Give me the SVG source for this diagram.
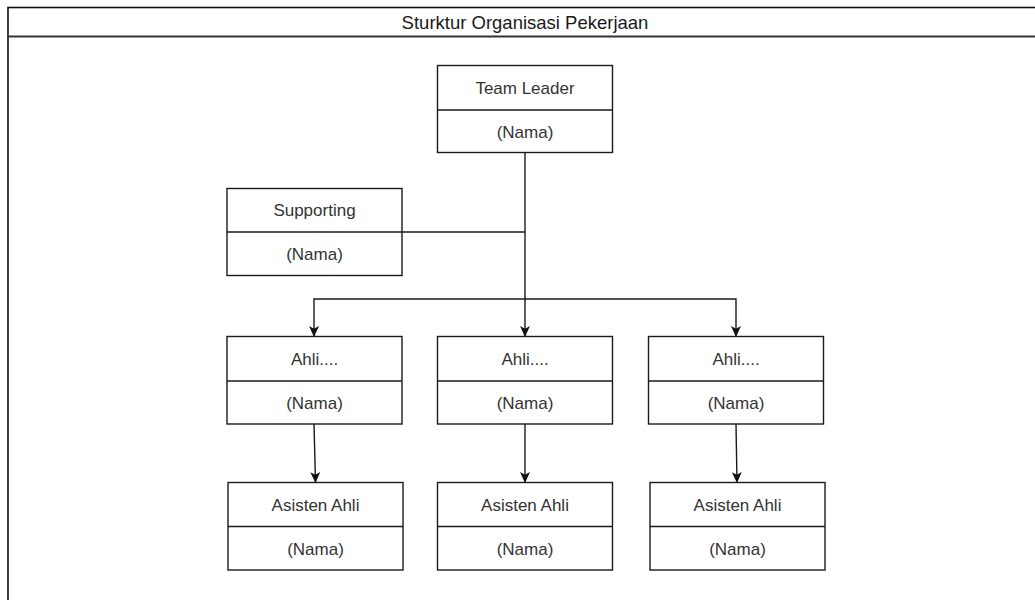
<svg xmlns="http://www.w3.org/2000/svg" width="1035" height="600" viewBox="0 0 1035 600">
  <style>
    .box { fill: #ffffff; stroke: #1a1a1a; stroke-width: 1.4; }
    .div { stroke: #1a1a1a; stroke-width: 1.4; fill: none; }
    .lbl { font-family: "Liberation Sans", Arial, Helvetica, sans-serif; font-size: 17px; fill: #333333; text-anchor: middle; }
    .title { font-family: "Liberation Sans", Arial, Helvetica, sans-serif; font-size: 18.5px; fill: #1a1a1a; text-anchor: middle; }
    .edge { fill: none; stroke: #1a1a1a; stroke-width: 1.4; }
    .frame { fill: #ffffff; stroke: #111111; stroke-width: 1.6; }
  </style>
  <defs>
    <marker id="arrow" viewBox="0 0 10 10" refX="9.5" refY="5" markerWidth="11" markerHeight="11" markerUnits="userSpaceOnUse" orient="auto">
      <path d="M0,0.5 L10,5 L0,9.5 L2.5,5 z" fill="#111111"/>
    </marker>
  </defs>
  <rect width="1035" height="600" fill="#ffffff"/>
  <g id="frame">
    <rect class="frame" x="8" y="7.5" width="1034" height="600"/>
    <line x1="8" y1="36.5" x2="1042" y2="36.5" stroke="#333333" stroke-width="1.8"/>
    <text class="title" x="525" y="29">Sturktur Organisasi Pekerjaan</text>
  </g>
  <g id="connectors">
    <line class="edge" x1="525" y1="152.5" x2="525" y2="336.5" marker-end="url(#arrow)"/>
    <polyline class="edge" points="525,299 314,299 314,336.5" marker-end="url(#arrow)"/>
    <polyline class="edge" points="525,299 736,299 736,336.5" marker-end="url(#arrow)"/>
    <line class="edge" x1="402" y1="232" x2="525" y2="232"/>
    <line class="edge" x1="314" y1="424" x2="315.5" y2="482.5" marker-end="url(#arrow)"/>
    <line class="edge" x1="525" y1="424" x2="525" y2="482.5" marker-end="url(#arrow)"/>
    <line class="edge" x1="736" y1="424" x2="737" y2="482.5" marker-end="url(#arrow)"/>
  </g>
  <g id="team-leader">
    <rect class="box" x="437.5" y="65.5" width="175" height="87"/>
    <line class="div" x1="437.5" y1="110" x2="612.5" y2="110"/>
    <text class="lbl" x="525" y="94">Team Leader</text>
    <text class="lbl" x="525" y="137.5">(Nama)</text>
  </g>
  <g id="supporting">
    <rect class="box" x="227" y="188.5" width="175" height="87"/>
    <line class="div" x1="227" y1="232" x2="402" y2="232"/>
    <text class="lbl" x="314.5" y="216">Supporting</text>
    <text class="lbl" x="314.5" y="260">(Nama)</text>
  </g>
  <g id="ahli-1">
    <rect class="box" x="227" y="336.5" width="175" height="87.5"/>
    <line class="div" x1="227" y1="381" x2="402" y2="381"/>
    <text class="lbl" x="314.5" y="365">Ahli....</text>
    <text class="lbl" x="314.5" y="408.5">(Nama)</text>
  </g>
  <g id="ahli-2">
    <rect class="box" x="437.5" y="336.5" width="175" height="87.5"/>
    <line class="div" x1="437.5" y1="381" x2="612.5" y2="381"/>
    <text class="lbl" x="525" y="365">Ahli....</text>
    <text class="lbl" x="525" y="408.5">(Nama)</text>
  </g>
  <g id="ahli-3">
    <rect class="box" x="648.5" y="336.5" width="175" height="87.5"/>
    <line class="div" x1="648.5" y1="381" x2="823.5" y2="381"/>
    <text class="lbl" x="736" y="365">Ahli....</text>
    <text class="lbl" x="736" y="408.5">(Nama)</text>
  </g>
  <g id="asisten-1">
    <rect class="box" x="228" y="482.5" width="175" height="87.5"/>
    <line class="div" x1="228" y1="526.5" x2="403" y2="526.5"/>
    <text class="lbl" x="315.5" y="510.5">Asisten Ahli</text>
    <text class="lbl" x="315.5" y="554.5">(Nama)</text>
  </g>
  <g id="asisten-2">
    <rect class="box" x="437.5" y="482.5" width="175" height="87.5"/>
    <line class="div" x1="437.5" y1="526.5" x2="612.5" y2="526.5"/>
    <text class="lbl" x="525" y="510.5">Asisten Ahli</text>
    <text class="lbl" x="525" y="554.5">(Nama)</text>
  </g>
  <g id="asisten-3">
    <rect class="box" x="650" y="482.5" width="175" height="87.5"/>
    <line class="div" x1="650" y1="526.5" x2="825" y2="526.5"/>
    <text class="lbl" x="737.5" y="510.5">Asisten Ahli</text>
    <text class="lbl" x="737.5" y="554.5">(Nama)</text>
  </g>
</svg>
